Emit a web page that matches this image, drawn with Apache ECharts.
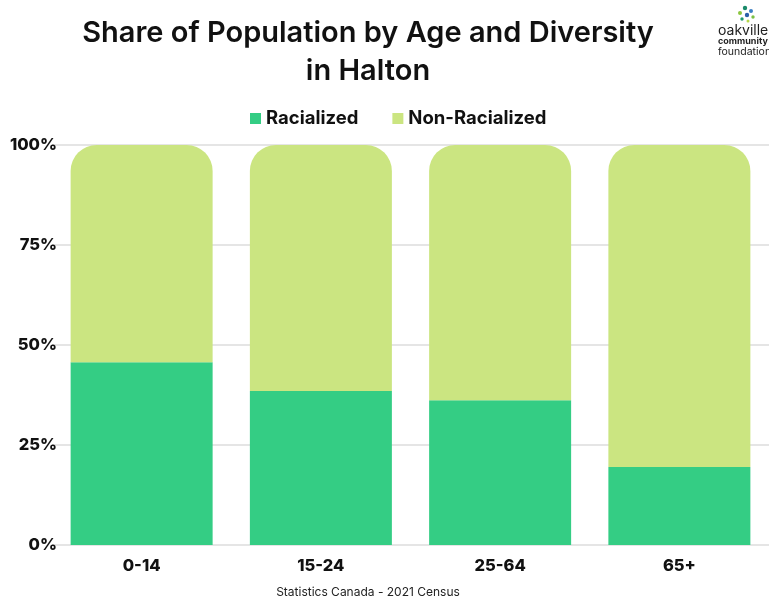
<!DOCTYPE html>
<html>
<head>
<meta charset="utf-8">
<script src="https://cdn.jsdelivr.net/npm/echarts@6/dist/echarts.min.js"></script>
<style>
html,body{margin:0;padding:0;background:#fff;}
#chart{width:769px;height:600px;}
</style>
</head>
<body>
<div id="chart"></div>
<script>
const categories = ['0-14', '15-24', '25-64', '65+'];
const racialized = [45.7, 38.5, 36.2, 19.5];
const nonRacialized = [54.3, 61.5, 63.8, 80.5];
const yTicks = [0, 25, 50, 75, 100];

const chart = echarts.init(document.getElementById('chart'));
const font = 'Inter, "Open Sans", sans-serif';
chart.setOption({
  backgroundColor: '#ffffff',
  animation: false,
  title: {
    text: 'Share of Population by Age and Diversity\nin Halton',
    left: 363, textAlign: 'center', top: 9,
    textStyle: { fontFamily: font, fontSize: 29, fontWeight: 600, color: '#111', lineHeight: 38 }
  },
  legend: {
    top: 104, left: 245,
    itemWidth: 11, itemHeight: 11, itemGap: 34,
    icon: 'rect',
    textStyle: { fontFamily: font, fontSize: 18.5, fontWeight: 700, color: '#111' },
    data: ['Racialized', 'Non-Racialized']
  },
  grid: { left: 52, right: -4, top: 145, height: 400, containLabel: false },
  xAxis: {
    type: 'category', data: categories,
    axisLine: { show: false }, axisTick: { show: false },
    axisLabel: { margin: 13, fontFamily: font, fontSize: 16.5, fontWeight: 800, color: '#111' }
  },
  yAxis: {
    type: 'value', min: yTicks[0], max: yTicks[yTicks.length - 1], interval: 25,
    axisLine: { show: false }, axisTick: { show: false },
    splitLine: { lineStyle: { color: '#dddddd', width: 1.5 } },
    axisLabel: { margin: -5, formatter: '{value}%', fontFamily: font, fontSize: 16.5, fontWeight: 800, color: '#111' }
  },
  series: [
    {
      name: 'Racialized', type: 'bar', stack: 'a', data: racialized, barWidth: 142,
      itemStyle: { color: '#34cd84' }
    },
    {
      name: 'Non-Racialized', type: 'bar', stack: 'a', data: nonRacialized, barWidth: 142,
      itemStyle: { color: '#cbe581', borderRadius: [26, 26, 0, 0] }
    }
  ],
  graphic: [
    {
      type: 'text',
      style: { text: 'Statistics Canada - 2021 Census', x: 368, y: 592, align: 'center', verticalAlign: 'middle', fontFamily: font, fontSize: 12, fill: '#222' }
    },
    { type: 'circle', shape: { cx: 745, cy: 8, r: 2.2 }, style: { fill: '#1a8a6a' } },
    { type: 'circle', shape: { cx: 751, cy: 11, r: 2 }, style: { fill: '#3b7fc4' } },
    { type: 'circle', shape: { cx: 740, cy: 13, r: 2 }, style: { fill: '#8cc63f' } },
    { type: 'circle', shape: { cx: 747, cy: 15, r: 2.2 }, style: { fill: '#2b5fa8' } },
    { type: 'circle', shape: { cx: 753, cy: 17, r: 1.7 }, style: { fill: '#7bc043' } },
    { type: 'circle', shape: { cx: 742, cy: 19, r: 1.7 }, style: { fill: '#1e9b6e' } },
    { type: 'circle', shape: { cx: 748, cy: 21, r: 1.5 }, style: { fill: '#b7d84b' } },
    { type: 'text', style: { text: 'oakville', x: 718, y: 24, fontFamily: font, fontSize: 14, fill: '#222' } },
    { type: 'text', style: { text: 'community', x: 718, y: 37, fontFamily: font, fontSize: 9, fontWeight: 700, fill: '#222' } },
    { type: 'text', style: { text: 'foundation', x: 718, y: 46, fontFamily: font, fontSize: 10.5, fill: '#222' } }
  ]
});
</script>
</body>
</html>
